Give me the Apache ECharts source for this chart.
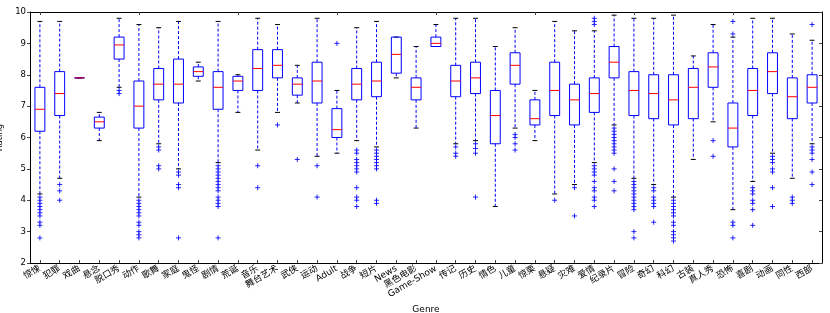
<!DOCTYPE html>
<html>
<head>
<meta charset="utf-8">
<script src="https://cdn.jsdelivr.net/npm/echarts@6/dist/echarts.min.js"></script>
<style>
html,body{margin:0;padding:0;background:#fff;}
#chart{width:830px;height:313px;}
</style>
</head>
<body>
<div id="chart"></div>
<script>
const categories = ['惊悚','犯罪','戏曲','悬念','脱口秀','动作','歌舞','家庭','鬼怪','剧情','荒诞','音乐','舞台艺术','武侠','运动','Adult','战争','短片','News','黑色电影','Game-Show','传记','历史','情色','儿童','惊栗','悬疑','灾难','爱情','纪录片','冒险','奇幻','科幻','古装','真人秀','恐怖','喜剧','动画','同性','西部'];
const whiskerHigh = [9.7,9.7,7.9,6.8,9.8,9.6,9.5,9.7,8.4,9.7,8.0,9.8,9.6,8.3,9.8,7.5,9.5,9.7,9.2,8.9,9.6,9.8,9.8,8.9,9.5,7.5,9.7,9.4,9.4,9.9,9.8,9.8,9.9,8.6,9.6,9.2,9.8,9.8,9.3,9.1];
const q3 = [7.6,8.1,7.9,6.65,9.2,7.8,8.2,8.5,8.25,8.1,7.95,8.8,8.8,7.9,8.4,6.92,8.2,8.4,9.2,7.9,9.2,8.3,8.4,7.5,8.7,7.2,8.4,7.7,7.9,8.9,8.1,8.0,8.0,8.2,8.7,7.1,8.2,8.7,7.9,8.0];
const median = [6.9,7.4,7.9,6.5,8.95,7.0,7.7,7.7,8.1,7.6,7.8,8.2,8.3,7.7,7.8,6.25,7.7,7.8,8.65,7.6,9.0,7.8,7.9,6.7,8.3,6.6,7.5,7.2,7.4,8.4,7.5,7.4,7.2,7.6,8.25,6.3,7.5,8.1,7.3,7.6];
const q1 = [6.2,6.7,7.9,6.3,8.5,6.3,7.2,7.1,7.95,6.9,7.5,7.5,7.9,7.35,7.1,6.0,7.2,7.3,8.05,7.2,8.9,7.3,7.4,5.8,7.7,6.4,6.7,6.4,6.8,7.9,6.7,6.6,6.4,6.6,7.6,5.7,6.7,7.4,6.6,7.1];
const whiskerLow = [4.2,4.7,7.9,5.9,7.6,4.1,5.8,5.0,7.8,5.2,6.8,5.6,6.8,7.1,5.4,5.5,5.9,5.7,7.9,6.3,8.9,5.8,5.9,3.8,6.3,5.9,4.2,4.5,5.2,6.4,4.7,4.5,4.1,5.3,6.5,3.7,4.6,5.5,4.7,5.8];
const fliers = [
  [4.1,4.0,3.9,3.8,3.7,3.6,3.5,3.3,3.2,2.8],
  [4.5,4.3,4.0],
  [],
  [],
  [7.5,7.4],
  [4.0,3.9,3.8,3.7,3.6,3.5,3.3,3.2,3.0,2.9,2.8],
  [5.7,5.6,5.1,5.0],
  [4.9,4.8,4.5,4.4,2.8],
  [],
  [5.1,5.0,4.9,4.8,4.7,4.6,4.5,4.4,4.3,4.1,4.0,3.9,3.8,2.8],
  [],
  [5.1,4.4],
  [6.4],
  [5.3],
  [5.1,4.1],
  [9.0],
  [5.6,5.5,5.3,5.2,5.1,5.0,4.9,4.4,4.1,4.0,3.8],
  [5.6,5.5,5.4,5.3,5.2,5.1,5.0,4.0,3.9],
  [],
  [],
  [],
  [5.7,5.5,5.4],
  [5.8,5.65,5.5,4.1],
  [],
  [6.1,6.0,5.8,5.6],
  [],
  [4.0],
  [4.4,3.5],
  [9.8,9.7,9.6,5.1,5.0,4.9,4.8,4.6,4.4,4.3,4.1,4.0,3.8],
  [6.3,6.2,6.1,6.0,5.9,5.8,5.7,5.6,5.5,5.0,4.6,4.3],
  [4.6,4.5,4.4,4.3,4.2,4.1,4.0,3.9,3.8,3.7,3.0,2.8],
  [4.4,4.3,4.1,4.0,3.9,3.8,3.3],
  [4.0,3.9,3.8,3.7,3.6,3.5,3.3,3.2,3.0,2.9,2.8,2.7],
  [],
  [5.9,5.4],
  [9.7,9.3,3.3,3.2,2.8],
  [4.4,4.3,4.2,4.0,3.9,3.7,3.2],
  [5.4,5.3,5.2,5.0,4.9,4.4,3.8],
  [4.1,4.0,3.9],
  [9.6,5.7,5.6,5.5,5.3,4.9,4.5]
];
const yTicks = [2,3,4,5,6,7,8,9,10];

const FONT = "'DejaVu Sans', 'Noto Sans CJK SC', sans-serif";
const LABEL_SIZE = 9;

const ctx = document.createElement('canvas').getContext('2d');
ctx.font = LABEL_SIZE + 'px ' + FONT;
const baseW = ctx.measureText('惊悚').width;
const xData = categories.map(c => {
  const w = ctx.measureText(c).width;
  const shift = Math.max(0, 0.3 * (w - baseW));
  return { value: c, textStyle: { padding: [2 * shift, 0, 0, 0] } };
});

const boxData = categories.map((c, i) => [i, whiskerLow[i], q1[i], median[i], q3[i], whiskerHigh[i]]);
const flierData = [];
fliers.forEach((arr, i) => arr.forEach(v => flierData.push([i, v])));

function renderBox(params, api) {
  const i = api.value(0);
  const pLow = api.coord([i, api.value(1)]);
  const pQ1 = api.coord([i, api.value(2)]);
  const pMed = api.coord([i, api.value(3)]);
  const pQ3 = api.coord([i, api.value(4)]);
  const pHigh = api.coord([i, api.value(5)]);
  const bw = api.size([1, 0])[0];
  const half = bw * 0.25;
  const capHalf = bw * 0.125;
  const x = pMed[0];
  const blue = '#0000ff';
  const children = [];
  const dash = { stroke: blue, lineWidth: 1, lineDash: [3, 2] };
  children.push({ type: 'line', shape: { x1: x, y1: pQ3[1], x2: x, y2: pHigh[1] }, style: Object.assign({}, dash) });
  children.push({ type: 'line', shape: { x1: x, y1: pQ1[1], x2: x, y2: pLow[1] }, style: Object.assign({}, dash) });
  children.push({ type: 'line', shape: { x1: x - capHalf, y1: pHigh[1], x2: x + capHalf, y2: pHigh[1] }, style: { stroke: '#000', lineWidth: 1 } });
  children.push({ type: 'line', shape: { x1: x - capHalf, y1: pLow[1], x2: x + capHalf, y2: pLow[1] }, style: { stroke: '#000', lineWidth: 1 } });
  children.push({ type: 'rect', shape: { x: x - half, y: pQ3[1], width: half * 2, height: pQ1[1] - pQ3[1] }, style: { fill: 'none', stroke: blue, lineWidth: 1 } });
  children.push({ type: 'line', shape: { x1: x - half, y1: pMed[1], x2: x + half, y2: pMed[1] }, style: { stroke: '#ff0000', lineWidth: 1 } });
  return { type: 'group', children: children };
}

const chart = echarts.init(document.getElementById('chart'), null, { renderer: 'canvas' });
const tickStyle = { color: '#444', width: 1 };
chart.setOption({
  animation: false,
  backgroundColor: '#fff',
  grid: { left: 30, right: 8, top: 12, bottom: 50, containLabel: false, outerBoundsMode: 'none' },
  xAxis: [{
    type: 'category',
    data: xData,
    position: 'bottom',
    boundaryGap: true,
    name: 'Genre',
    nameLocation: 'middle',
    nameGap: 36,
    nameTextStyle: { fontFamily: FONT, fontSize: 9, color: '#000' },
    axisLine: { show: true, lineStyle: { color: '#000', width: 1 } },
    axisTick: { show: true, inside: true, length: 3, alignWithLabel: true, lineStyle: tickStyle },
    axisLabel: { interval: 0, rotate: 30, margin: 5, fontFamily: FONT, fontSize: LABEL_SIZE, color: '#000', hideOverlap: false },
    splitLine: { show: false }
  }, {
    type: 'category',
    data: categories,
    position: 'top',
    boundaryGap: true,
    axisLine: { show: true, lineStyle: { color: '#000', width: 1 } },
    axisTick: { show: true, inside: true, length: 3, alignWithLabel: true, lineStyle: tickStyle },
    axisLabel: { show: false },
    splitLine: { show: false }
  }],
  yAxis: [{
    type: 'value',
    min: yTicks[0],
    max: yTicks[yTicks.length - 1],
    interval: 1,
    name: 'Rating',
    nameLocation: 'middle',
    nameGap: 19,
    nameTextStyle: { fontFamily: FONT, fontSize: 8.5, color: '#000' },
    axisLine: { show: true, lineStyle: { color: '#000', width: 1 } },
    axisTick: { show: true, inside: false, length: 3, lineStyle: tickStyle },
    axisLabel: { margin: 4, fontFamily: FONT, fontSize: 8.5, color: '#000' },
    splitLine: { show: false }
  }, {
    type: 'value',
    position: 'right',
    min: yTicks[0],
    max: yTicks[yTicks.length - 1],
    interval: 1,
    axisLine: { show: true, lineStyle: { color: '#000', width: 1 } },
    axisTick: { show: true, inside: true, length: 3, lineStyle: tickStyle },
    axisLabel: { show: false },
    splitLine: { show: false }
  }],
  series: [{
    type: 'custom',
    xAxisIndex: 0,
    yAxisIndex: 0,
    data: boxData,
    encode: { x: 0, y: [1, 2, 3, 4, 5] },
    renderItem: renderBox,
    silent: true,
    z: 2
  }, {
    type: 'scatter',
    xAxisIndex: 0,
    yAxisIndex: 0,
    data: flierData,
    symbol: 'path://M3,0L3,6M0,3L6,3',
    symbolSize: 5,
    itemStyle: { color: 'none', borderColor: '#0000ff', borderWidth: 1, opacity: 0.85 },
    silent: true,
    z: 3
  }]
});
</script>
</body>
</html>
